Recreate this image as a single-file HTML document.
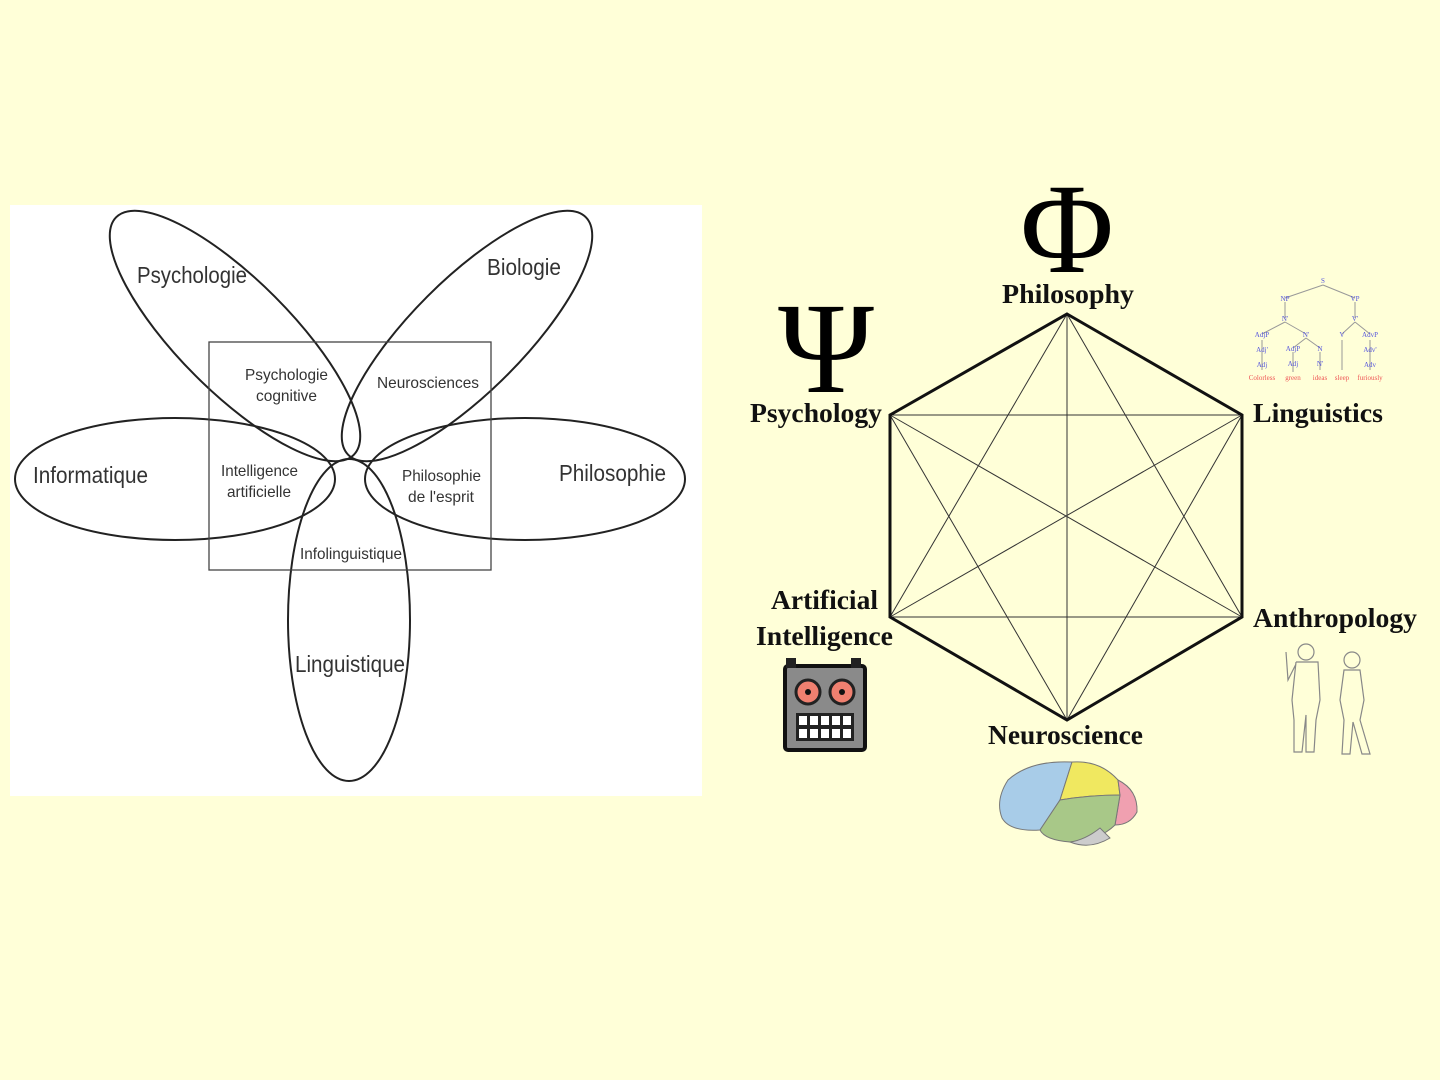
<!DOCTYPE html>
<html><head><meta charset="utf-8"><style>
html,body{margin:0;padding:0;background:#ffffd8;}
svg{display:block}
</style></head><body>
<svg width="1440" height="1080" viewBox="0 0 1440 1080" xmlns="http://www.w3.org/2000/svg">
<rect width="1440" height="1080" fill="#ffffd8"/>
<rect x="10" y="205" width="692" height="591" fill="#ffffff"/>
<g fill="none" stroke="#222" stroke-width="2">
<ellipse cx="235" cy="336" rx="168" ry="56" transform="rotate(45 235 336)"/>
<ellipse cx="467" cy="336" rx="168" ry="56" transform="rotate(-45 467 336)"/>
<ellipse cx="175" cy="479" rx="160" ry="61"/>
<ellipse cx="525" cy="479" rx="160" ry="61"/>
<ellipse cx="349" cy="620" rx="61" ry="161"/>
</g>
<rect x="209" y="342" width="282" height="228" fill="none" stroke="#444" stroke-width="1.3"/>
<g font-family="Liberation Sans, sans-serif" fill="#333" lengthAdjust="spacingAndGlyphs">
<text x="137" y="283" font-size="23" textLength="110" lengthAdjust="spacingAndGlyphs">Psychologie</text>
<text x="487" y="275" font-size="23" textLength="74" lengthAdjust="spacingAndGlyphs">Biologie</text>
<text x="33" y="483" font-size="23" textLength="115" lengthAdjust="spacingAndGlyphs">Informatique</text>
<text x="559" y="481" font-size="23" textLength="107" lengthAdjust="spacingAndGlyphs">Philosophie</text>
<text x="295" y="672" font-size="23" textLength="110" lengthAdjust="spacingAndGlyphs">Linguistique</text>
<text x="245" y="380" font-size="16" textLength="83" lengthAdjust="spacingAndGlyphs">Psychologie</text>
<text x="256" y="401" font-size="16" textLength="61" lengthAdjust="spacingAndGlyphs">cognitive</text>
<text x="377" y="388" font-size="16" textLength="102" lengthAdjust="spacingAndGlyphs">Neurosciences</text>
<text x="221" y="476" font-size="16" textLength="77" lengthAdjust="spacingAndGlyphs">Intelligence</text>
<text x="227" y="497" font-size="16" textLength="64" lengthAdjust="spacingAndGlyphs">artificielle</text>
<text x="402" y="481" font-size="16" textLength="79" lengthAdjust="spacingAndGlyphs">Philosophie</text>
<text x="408" y="502" font-size="16" textLength="66" lengthAdjust="spacingAndGlyphs">de l'esprit</text>
<text x="300" y="559" font-size="16" textLength="102" lengthAdjust="spacingAndGlyphs">Infolinguistique</text>
</g>
<g stroke="#333" stroke-width="1" fill="none">
<line x1="1067" y1="314" x2="1242" y2="617"/>
<line x1="1067" y1="314" x2="1067" y2="720"/>
<line x1="1067" y1="314" x2="890" y2="617"/>
<line x1="1242" y1="415" x2="1067" y2="720"/>
<line x1="1242" y1="415" x2="890" y2="617"/>
<line x1="1242" y1="415" x2="890" y2="415"/>
<line x1="1242" y1="617" x2="890" y2="617"/>
<line x1="1242" y1="617" x2="890" y2="415"/>
<line x1="1067" y1="720" x2="890" y2="415"/>
</g>
<polygon points="1067,314 1242,415 1242,617 1067,720 890,617 890,415" fill="none" stroke="#111" stroke-width="3"/>
<g font-family="Liberation Serif, serif" font-weight="bold" fill="#111" font-size="27">
<text x="1002" y="303" textLength="132" lengthAdjust="spacingAndGlyphs">Philosophy</text>
<text x="750" y="422" textLength="132" lengthAdjust="spacingAndGlyphs">Psychology</text>
<text x="1253" y="422" textLength="130" lengthAdjust="spacingAndGlyphs">Linguistics</text>
<text x="771" y="609" textLength="107" lengthAdjust="spacingAndGlyphs">Artificial</text>
<text x="756" y="645" textLength="137" lengthAdjust="spacingAndGlyphs">Intelligence</text>
<text x="1253" y="627" textLength="164" lengthAdjust="spacingAndGlyphs">Anthropology</text>
<text x="988" y="744" textLength="155" lengthAdjust="spacingAndGlyphs">Neuroscience</text>
</g>
<g font-family="Liberation Serif, serif" fill="#000" text-anchor="middle">
<text x="1067" y="272" font-size="128">Φ</text>
<text x="826" y="392" font-size="130">Ψ</text>
</g>
<g stroke="#999" stroke-width="1" fill="none">
<path d="M1323 285 L1285 298 M1323 285 L1355 298 M1285 302 V318 M1355 302 V318 M1285 322 L1262 334 M1285 322 L1306 334 M1355 322 L1342 334 M1355 322 L1370 334 M1306 338 L1293 348 M1306 338 L1320 348 M1262 340 V370 M1293 352 V372 M1320 352 V370 M1342 340 V370 M1370 340 V370"/>
</g>
<g font-family="Liberation Serif, serif" font-size="7" fill="#55d" text-anchor="middle">
<text x="1323" y="283">S</text><text x="1285" y="301">NP</text><text x="1355" y="301">VP</text>
<text x="1285" y="321">N'</text><text x="1355" y="321">V'</text>
<text x="1262" y="337">AdjP</text><text x="1306" y="337">N'</text><text x="1342" y="337">V</text><text x="1370" y="337">AdvP</text>
<text x="1262" y="352">Adj'</text><text x="1293" y="351">AdjP</text><text x="1320" y="351">N</text><text x="1370" y="352">Adv'</text>
<text x="1262" y="367">Adj</text><text x="1293" y="366">Adj</text><text x="1320" y="366">N'</text><text x="1370" y="367">Adv</text>
</g>
<g font-family="Liberation Serif, serif" font-size="7" fill="#e55" text-anchor="middle">
<text x="1262" y="380">Colorless</text><text x="1293" y="380">green</text><text x="1320" y="380">ideas</text><text x="1342" y="380">sleep</text><text x="1370" y="380">furiously</text>
</g>
<g>
<rect x="785" y="666" width="80" height="84" rx="3" fill="#8a8a8a" stroke="#111" stroke-width="4"/>
<rect x="786" y="658" width="10" height="10" fill="#222"/>
<rect x="851" y="658" width="10" height="10" fill="#222"/>
<circle cx="808" cy="692" r="12" fill="#f08070" stroke="#222" stroke-width="3"/>
<circle cx="808" cy="692" r="3" fill="#111"/>
<circle cx="842" cy="692" r="12" fill="#f08070" stroke="#222" stroke-width="3"/>
<circle cx="842" cy="692" r="3" fill="#111"/>
<rect x="796" y="713" width="58" height="28" fill="#222"/>
<g fill="#fff">
<rect x="799" y="716" width="8" height="9"/><rect x="810" y="716" width="8" height="9"/><rect x="821" y="716" width="8" height="9"/><rect x="832" y="716" width="8" height="9"/><rect x="843" y="716" width="8" height="9"/>
<rect x="799" y="729" width="8" height="9"/><rect x="810" y="729" width="8" height="9"/><rect x="821" y="729" width="8" height="9"/><rect x="832" y="729" width="8" height="9"/><rect x="843" y="729" width="8" height="9"/>
</g>
</g>
<g stroke="#777" stroke-width="1">
<path d="M1072 762 Q1030 760 1008 780 Q995 800 1002 818 Q1010 832 1040 830 L1060 800 L1072 762Z" fill="#a8cce8"/>
<path d="M1072 762 Q1100 760 1118 780 L1120 795 Q1090 795 1060 800 Z" fill="#f0e860"/>
<path d="M1118 780 Q1138 790 1137 812 Q1130 825 1115 825 L1120 795 Z" fill="#f0a0b0"/>
<path d="M1060 800 Q1090 795 1120 795 L1115 825 Q1100 840 1070 842 Q1045 840 1040 830 Z" fill="#a8c888"/>
<path d="M1070 842 Q1090 850 1110 838 L1100 828 Q1085 840 1070 842Z" fill="#ccc"/>
</g>
<g fill="none" stroke="#888" stroke-width="1.2">
<circle cx="1306" cy="652" r="8"/>
<path d="M1296 662 L1318 662 L1320 700 L1316 720 L1314 752 L1306 752 L1306 715 L1302 752 L1294 752 L1294 720 L1292 700 L1296 662 M1296 664 L1288 680 L1286 652"/>
<circle cx="1352" cy="660" r="8"/>
<path d="M1344 670 L1360 670 L1364 700 L1360 720 L1370 754 L1362 754 L1353 722 L1350 754 L1342 754 L1344 720 L1340 700 Z"/>
</g>
</svg>
</body></html>
